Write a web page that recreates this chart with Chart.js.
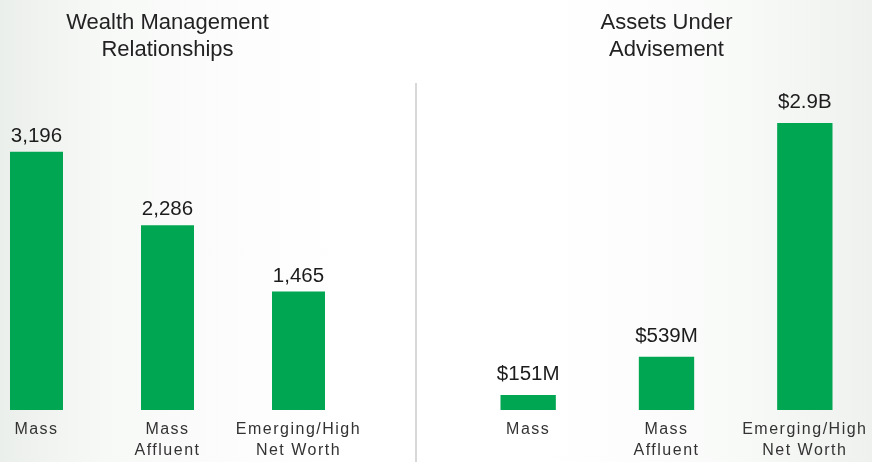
<!DOCTYPE html>
<html>
<head>
<meta charset="utf-8">
<script src="https://cdn.jsdelivr.net/npm/chart.js@4"></script>
<style>
  html, body { margin: 0; padding: 0; width: 872px; height: 462px; overflow: hidden; }
  body {
    position: relative;
    background: linear-gradient(to right, #ebefeb 0%, #f7f9f7 12%, #ffffff 40%, #ffffff 62%, #f8faf8 85%, #eef1ee 100%);
    font-family: "Liberation Sans", Arial, sans-serif;
  }
  .panel { position: absolute; top: 0; height: 462px; }
  #leftWrap { left: -29px; width: 393px; }
  #rightWrap { left: 459px; width: 415px; }
  #divider { position: absolute; left: 414.5px; top: 83px; width: 2px; height: 379px; background: #d8d8d8; }
</style>
</head>
<body>
<div id="divider"></div>
<div class="panel" id="leftWrap"><canvas id="leftChart" width="393" height="462"></canvas></div>
<div class="panel" id="rightWrap"><canvas id="rightChart" width="415" height="462"></canvas></div>
<script>
// ---- data ----
const categories = [["Mass"], ["Mass", "Affluent"], ["Emerging/High", "Net Worth"]];
const leftTitle = ["Wealth Management", "Relationships"];
const rightTitle = ["Assets Under", "Advisement"];
const relationships = [3196, 2286, 1465];          // count of relationships
const assetsMillions = [151, 539, 2900];           // $ millions under advisement

const GREEN = "#00a651";
const FONT = "'Liberation Sans', Arial, sans-serif";

function fmtCount(v) { return v.toLocaleString("en-US"); }
function fmtMoney(v) { return v >= 1000 ? "$" + (v / 1000).toFixed(1) + "B" : "$" + v + "M"; }

// spaced-out category labels on the x axis only
function spaceLabels(scale) {
  scale.height = 52;
  if (!scale._spaced) {
    const orig = scale.drawLabels;
    scale.drawLabels = function (area) {
      const ctx = this.ctx;
      const prev = ctx.letterSpacing;
      ctx.letterSpacing = "1.5px";
      orig.call(this, area);
      ctx.letterSpacing = prev || "0px";
    };
    scale._spaced = true;
  }
}

const valueLabels = {
  id: "valueLabels",
  afterDatasetsDraw(chart, args, opts) {
    const ctx = chart.ctx;
    const ds = chart.data.datasets[0];
    const meta = chart.getDatasetMeta(0);
    ctx.save();
    ctx.letterSpacing = "0px";
    ctx.font = "20.5px " + FONT;
    ctx.fillStyle = "#1c1c1c";
    ctx.textAlign = "center";
    ctx.textBaseline = "alphabetic";
    meta.data.forEach((bar, i) => {
      ctx.fillText(opts.format(ds.data[i]), bar.x, bar.y - opts.offset);
    });
    ctx.restore();
  }
};

function makeChart(id, title, values, yMax, barPct, format, offset) {
  return new Chart(document.getElementById(id), {
    type: "bar",
    data: {
      labels: categories,
      datasets: [{
        data: values,
        backgroundColor: GREEN,
        borderWidth: 0,
        barPercentage: barPct,
        categoryPercentage: 1
      }]
    },
    options: {
      responsive: false,
      animation: false,
      layout: { padding: 0 },
      plugins: {
        legend: { display: false },
        tooltip: { enabled: false },
        title: {
          display: true,
          text: title,
          color: "#222",
          font: { family: FONT, size: 22, weight: "normal", lineHeight: 1.25 },
          padding: { top: 9, bottom: 36 }
        },
        valueLabels: { format: format, offset: offset }
      },
      scales: {
        x: {
          grid: { display: false, drawTicks: false },
          border: { display: false },
          ticks: {
            color: "#333",
            padding: 9,
            maxRotation: 0,
            autoSkip: false,
            font: { family: FONT, size: 16, lineHeight: 1.3125 }
          },
          afterFit: spaceLabels
        },
        y: {
          display: false,
          min: 0,
          max: yMax
        }
      }
    },
    plugins: [valueLabels]
  });
}

makeChart("leftChart", leftTitle, relationships, 3836, 0.4046, fmtCount, 10);
makeChart("rightChart", rightTitle, assetsMillions, 3132, 0.40, fmtMoney, 15);
</script>
</body>
</html>
